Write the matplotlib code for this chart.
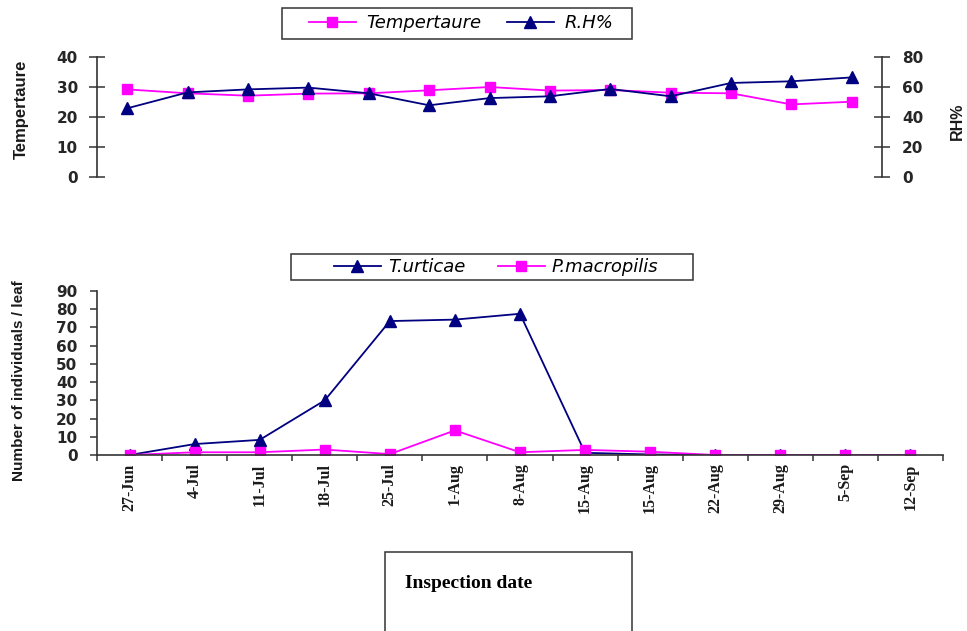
import matplotlib
matplotlib.use("Agg")
import matplotlib.pyplot as plt
import numpy as np
from matplotlib.patches import Rectangle
from matplotlib.font_manager import FontProperties

# Inspection dates and seasonal records
dates = ["27-Jun", "4-Jul", "11-Jul", "18-Jul", "25-Jul", "1-Aug", "8-Aug",
         "15-Aug", "15-Aug", "22-Aug", "29-Aug", "5-Sep", "12-Sep"]
temperature = [29.2, 27.9, 27.1, 27.8, 27.9, 28.9, 30.0, 28.8, 29.0, 28.1, 27.9, 24.2, 25.1]
rel_humidity = [45.8, 56.4, 58.4, 59.6, 55.8, 47.8, 52.6, 53.8, 58.7, 53.8, 62.7, 63.8, 66.4]
t_urticae = [0, 6.0, 8.3, 30.0, 73.5, 74.3, 77.5, 1.2, 0.3, 0, 0, 0, 0]
p_macropilis = [0, 1.5, 1.5, 3.0, 0.5, 13.5, 1.5, 2.8, 1.8, 0, 0, 0, 0]

temp_ticks = [0, 10, 20, 30, 40]
rh_ticks = [0, 20, 40, 60, 80]
count_ticks = list(range(0, 91, 10))

MAGENTA = "#FF00FF"
NAVY = "#000080"
AXIS = "#333333"
TXT = "#1a1a1a"

W, H = 967, 631
fig = plt.figure(figsize=(W / 100, H / 100), dpi=100)
x = np.arange(len(dates))

tick_fp = FontProperties(family="DejaVu Sans", weight="bold", size=11)
legend_fp = FontProperties(family="DejaVu Sans", style="oblique", size=13)
label_font = dict(family="Liberation Sans", weight="bold", color=TXT)


def style_ticklabels(axis):
    for lab in axis.get_ticklabels():
        lab.set_fontproperties(tick_fp)
        lab.set_color("#262626")


def frame_box(x0, y0, x1, y1):
    """Rectangle given in pixel coordinates from the top-left corner."""
    r = Rectangle((x0 / W, 1 - y1 / H), (x1 - x0) / W, (y1 - y0) / H,
                  transform=fig.transFigure, fill=False, edgecolor="#333333",
                  linewidth=1.1, clip_on=False)
    fig.add_artist(r)


# ---- weather panel ----
ax_t = fig.add_axes([97 / W, 1 - 177 / H, 785 / W, 120 / H])
ax_rh = ax_t.twinx()

l_temp, = ax_t.plot(x, temperature, color=MAGENTA, lw=1.3, marker="s",
                    markersize=7.5, markeredgecolor=MAGENTA)
l_rh, = ax_rh.plot(x, rel_humidity, color=NAVY, lw=1.3, marker="^",
                   markersize=8, markeredgecolor=NAVY)

ax_t.set_xlim(-0.5, len(dates) - 0.5)
ax_t.set_ylim(0, 40)
ax_rh.set_ylim(0, 80)
ax_t.set_yticks(temp_ticks)
ax_rh.set_yticks(rh_ticks)
ax_t.set_xticks([])

for a in (ax_t, ax_rh):
    for s in ("top", "bottom"):
        a.spines[s].set_visible(False)
ax_t.spines["right"].set_visible(False)
ax_rh.spines["left"].set_visible(False)
ax_t.spines["left"].set_color(AXIS)
ax_rh.spines["right"].set_color(AXIS)
ax_t.spines["left"].set_linewidth(1.2)
ax_rh.spines["right"].set_linewidth(1.2)
ax_t.tick_params(axis="y", direction="inout", length=11.5, width=1.1,
                 color=AXIS, pad=8)
ax_rh.tick_params(axis="y", direction="inout", length=11, width=1.1,
                  color=AXIS, pad=9)
style_ticklabels(ax_t.yaxis)
style_ticklabels(ax_rh.yaxis)

fig.text(21.5 / W, 1 - 109 / H, "Tempertaure", rotation=90,
         ha="center", va="center", fontsize=12, **label_font)
fig.text(957 / W, 1 - 121 / H, "RH%", rotation=90,
         ha="center", va="center", fontsize=11.5, **label_font)

fig.legend([l_temp, l_rh], ["Tempertaure", "R.H%"], loc="center",
           bbox_to_anchor=(461 / W, 1 - 23.5 / H), ncol=2, frameon=False,
           prop=legend_fp, handlelength=2.6, handletextpad=0.6,
           columnspacing=1.4, borderpad=0.0)
frame_box(282, 8, 632, 39)

# ---- mite population panel ----
ax_m = fig.add_axes([97 / W, 1 - 455 / H, 846 / W, 164 / H])
l_tu, = ax_m.plot(x, t_urticae, color=NAVY, lw=1.3, marker="^",
                  markersize=8, markeredgecolor=NAVY)
l_pm, = ax_m.plot(x, p_macropilis, color=MAGENTA, lw=1.3, marker="s",
                  markersize=7.5, markeredgecolor=MAGENTA)

ax_m.set_xlim(-0.5, len(dates) - 0.5)
ax_m.set_ylim(0, 90)
ax_m.set_yticks(count_ticks)
ax_m.set_xticks(np.arange(-0.5, len(dates), 1.0))
ax_m.set_xticklabels([])
ax_m.set_xticks(x, minor=True)
ax_m.set_xticklabels(dates, minor=True, rotation=90, family="Liberation Serif",
                     weight="bold", fontsize=11.5, color=TXT)
ax_m.tick_params(axis="x", which="major", direction="out", length=4.5,
                 width=1.1, color=AXIS)
ax_m.tick_params(axis="x", which="minor", length=0, pad=6)
ax_m.tick_params(axis="y", direction="out", length=5, width=1.1, color=AXIS,
                 pad=9)
style_ticklabels(ax_m.yaxis)
for s in ("top", "right"):
    ax_m.spines[s].set_visible(False)
for s in ("left", "bottom"):
    ax_m.spines[s].set_color(AXIS)
    ax_m.spines[s].set_linewidth(1.2)

fig.text(19 / W, 1 - 381 / H, "Number of individuals / leaf", rotation=90,
         ha="center", va="center", fontsize=11, **label_font)

fig.legend([l_tu, l_pm], ["T.urticae", "P.macropilis"], loc="center",
           bbox_to_anchor=(496 / W, 1 - 267 / H), ncol=2, frameon=False,
           prop=legend_fp, handlelength=2.6, handletextpad=0.4,
           columnspacing=1.8, borderpad=0.0)
frame_box(291, 254, 693, 280)

# ---- x-axis title box ----
frame_box(385, 552, 632, H + 10)
fig.text(405 / W, 1 - 584 / H, "Inspection date", ha="left", va="center",
         family="Liberation Serif", weight="bold", fontsize=14, color="black")

fig.savefig("out.png", dpi=100)
